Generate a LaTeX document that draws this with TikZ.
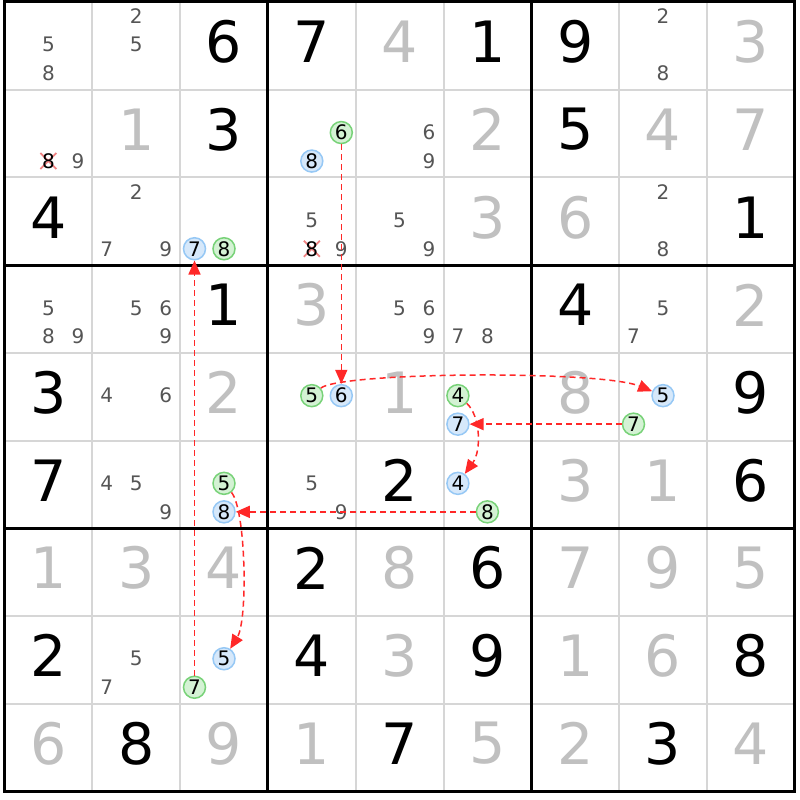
\documentclass[tikz,border=0pt]{standalone}
\usepackage{fontspec}
\usetikzlibrary{arrows.meta}
\newfontfamily\sudokufont{DejaVu Sans}
\definecolor{solvedgray}{RGB}{192,192,192}
\definecolor{candgray}{RGB}{85,85,85}
\definecolor{gridgray}{RGB}{214,214,214}
\definecolor{chainred}{RGB}{255,40,40}
\definecolor{onfill}{RGB}{212,242,212}
\definecolor{ondraw}{RGB}{120,210,120}
\definecolor{offfill}{RGB}{214,232,250}
\definecolor{offdraw}{RGB}{150,200,245}
\definecolor{crossred}{RGB}{240,130,130}
\tikzset{
 givtext/.style={font=\sudokufont\fontsize{57}{57}\selectfont, inner sep=0pt, text=black},
 soltext/.style={givtext, text=solvedgray},
 candtext/.style={font=\sudokufont\fontsize{20}{20}\selectfont, inner sep=0pt, text=candgray},
 oncand/.style={candtext, text=black, circle, draw=ondraw, fill=onfill, line width=1.5pt, minimum size=22pt},
 offcand/.style={oncand, draw=offdraw, fill=offfill},
 xcandtext/.style={candtext, text=black},
 crossline/.style={draw=crossred, line width=1.8pt},
 chainarrow/.style={draw=chainred, line width=1.5pt, dash pattern=on 6pt off 4pt, -{Triangle[length=14pt,width=12pt]}},
 thinline/.style={draw=gridgray, line width=2pt},
 thickline/.style={draw=black, line width=3pt},
}
\newcommand\given[4][givtext]{%
  \pgfmathsetmacro\gx{4.5+87.8*(#3-0.5)}%
  \pgfmathsetmacro\gy{2+87.7*(#2-0.5)-4}%
  \node[#1] (v#2#3) at (\gx,\gy) {#4};}
\newcommand\cand[4][candtext]{%
  \pgfmathsetmacro\kx{4.5+87.8*(#3-0.5)+(mod(#4-1,3)-1)*29.5}%
  \pgfmathsetmacro\ky{2+87.7*(#2-0.5)+(floor((#4-1)/3)-1)*28.5-1}%
  \node[#1] (k#2#3#4) at (\kx,\ky) {#4};}
\newcommand\xcand[3]{%
  \pgfmathsetmacro\kx{4.5+87.8*(#2-0.5)+(mod(#3-1,3)-1)*29.5}%
  \pgfmathsetmacro\ky{2+87.7*(#1-0.5)+(floor((#3-1)/3)-1)*28.5-1}%
  \draw[crossline] (\kx-8,\ky-8) -- (\kx+8,\ky+8) (\kx-8,\ky+8) -- (\kx+8,\ky-8);
  \node[xcandtext] (k#1#2#3) at (\kx,\ky) {#3};}
\begin{document}
\begin{tikzpicture}[x=1pt,y=-1pt]
\useasboundingbox (0,0) rectangle (800,800);
\fill[white] (0,0) rectangle (800,800);
% grid
\foreach \i in {1,2,4,5,7,8} {
  \draw[thinline] (4.5+87.8*\i,2) -- (4.5+87.8*\i,791.3);
  \draw[thinline] (4.5,2+87.7*\i) -- (794.7,2+87.7*\i);
}
\foreach \i in {0,3,6,9} {
  \draw[thickline] (4.5+87.8*\i,0.5) -- (4.5+87.8*\i,792.8);
  \draw[thickline] (3,2+87.7*\i) -- (796.2,2+87.7*\i);
}
% givens
\given{1}{3}{6} \given{1}{4}{7} \given{1}{6}{1} \given{1}{7}{9}
\given{2}{3}{3} \given{2}{7}{5}
\given{3}{1}{4} \given{3}{9}{1}
\given{4}{3}{1} \given{4}{7}{4}
\given{5}{1}{3} \given{5}{9}{9}
\given{6}{1}{7} \given{6}{5}{2} \given{6}{9}{6}
\given{7}{4}{2} \given{7}{6}{6}
\given{8}{1}{2} \given{8}{4}{4} \given{8}{6}{9} \given{8}{9}{8}
\given{9}{2}{8} \given{9}{5}{7} \given{9}{8}{3}
% solved
\given[soltext]{1}{5}{4} \given[soltext]{1}{9}{3}
\given[soltext]{2}{2}{1} \given[soltext]{2}{6}{2} \given[soltext]{2}{8}{4} \given[soltext]{2}{9}{7}
\given[soltext]{3}{6}{3} \given[soltext]{3}{7}{6}
\given[soltext]{4}{4}{3} \given[soltext]{4}{9}{2}
\given[soltext]{5}{3}{2} \given[soltext]{5}{5}{1} \given[soltext]{5}{7}{8}
\given[soltext]{6}{7}{3} \given[soltext]{6}{8}{1}
\given[soltext]{7}{1}{1} \given[soltext]{7}{2}{3} \given[soltext]{7}{3}{4} \given[soltext]{7}{5}{8}
\given[soltext]{7}{7}{7} \given[soltext]{7}{8}{9} \given[soltext]{7}{9}{5}
\given[soltext]{8}{5}{3} \given[soltext]{8}{7}{1} \given[soltext]{8}{8}{6}
\given[soltext]{9}{1}{6} \given[soltext]{9}{3}{9} \given[soltext]{9}{4}{1} \given[soltext]{9}{6}{5}
\given[soltext]{9}{7}{2} \given[soltext]{9}{9}{4}
% candidates
\cand{1}{1}{5} \cand{1}{1}{8}
\cand{1}{2}{2} \cand{1}{2}{5}
\cand{1}{8}{2} \cand{1}{8}{8}
\xcand{2}{1}{8} \cand{2}{1}{9}
\cand[oncand]{2}{4}{6} \cand[offcand]{2}{4}{8}
\cand{2}{5}{6} \cand{2}{5}{9}
\cand{3}{2}{2} \cand{3}{2}{7} \cand{3}{2}{9}
\cand[offcand]{3}{3}{7} \cand[oncand]{3}{3}{8}
\cand{3}{4}{5} \xcand{3}{4}{8} \cand{3}{4}{9}
\cand{3}{5}{5} \cand{3}{5}{9}
\cand{3}{8}{2} \cand{3}{8}{8}
\cand{4}{1}{5} \cand{4}{1}{8} \cand{4}{1}{9}
\cand{4}{2}{5} \cand{4}{2}{6} \cand{4}{2}{9}
\cand{4}{5}{5} \cand{4}{5}{6} \cand{4}{5}{9}
\cand{4}{6}{7} \cand{4}{6}{8}
\cand{4}{8}{5} \cand{4}{8}{7}
\cand{5}{2}{4} \cand{5}{2}{6}
\cand[oncand]{5}{4}{5} \cand[offcand]{5}{4}{6}
\cand[oncand]{5}{6}{4} \cand[offcand]{5}{6}{7}
\cand[offcand]{5}{8}{5} \cand[oncand]{5}{8}{7}
\cand{6}{2}{4} \cand{6}{2}{5} \cand{6}{2}{9}
\cand[oncand]{6}{3}{5} \cand[offcand]{6}{3}{8}
\cand{6}{4}{5} \cand{6}{4}{9}
\cand[offcand]{6}{6}{4} \cand[oncand]{6}{6}{8}
\cand{8}{2}{5} \cand{8}{2}{7}
\cand[offcand]{8}{3}{5} \cand[oncand]{8}{3}{7}
% chain
\draw[chainarrow] (k246) -- (k546);
\draw[chainarrow] (k545) .. controls (340,372) and (600,370) .. (k585);
\draw[chainarrow] (k587) -- (k567);
\draw[chainarrow] (k564) .. controls (480,415) and (482,450) .. (k664);
\draw[chainarrow] (k668) -- (k638);
\draw[chainarrow] (k635) .. controls (246,510) and (248,620) .. (k835);
\draw[chainarrow] (k837) -- (k337);
\end{tikzpicture}
\end{document}
